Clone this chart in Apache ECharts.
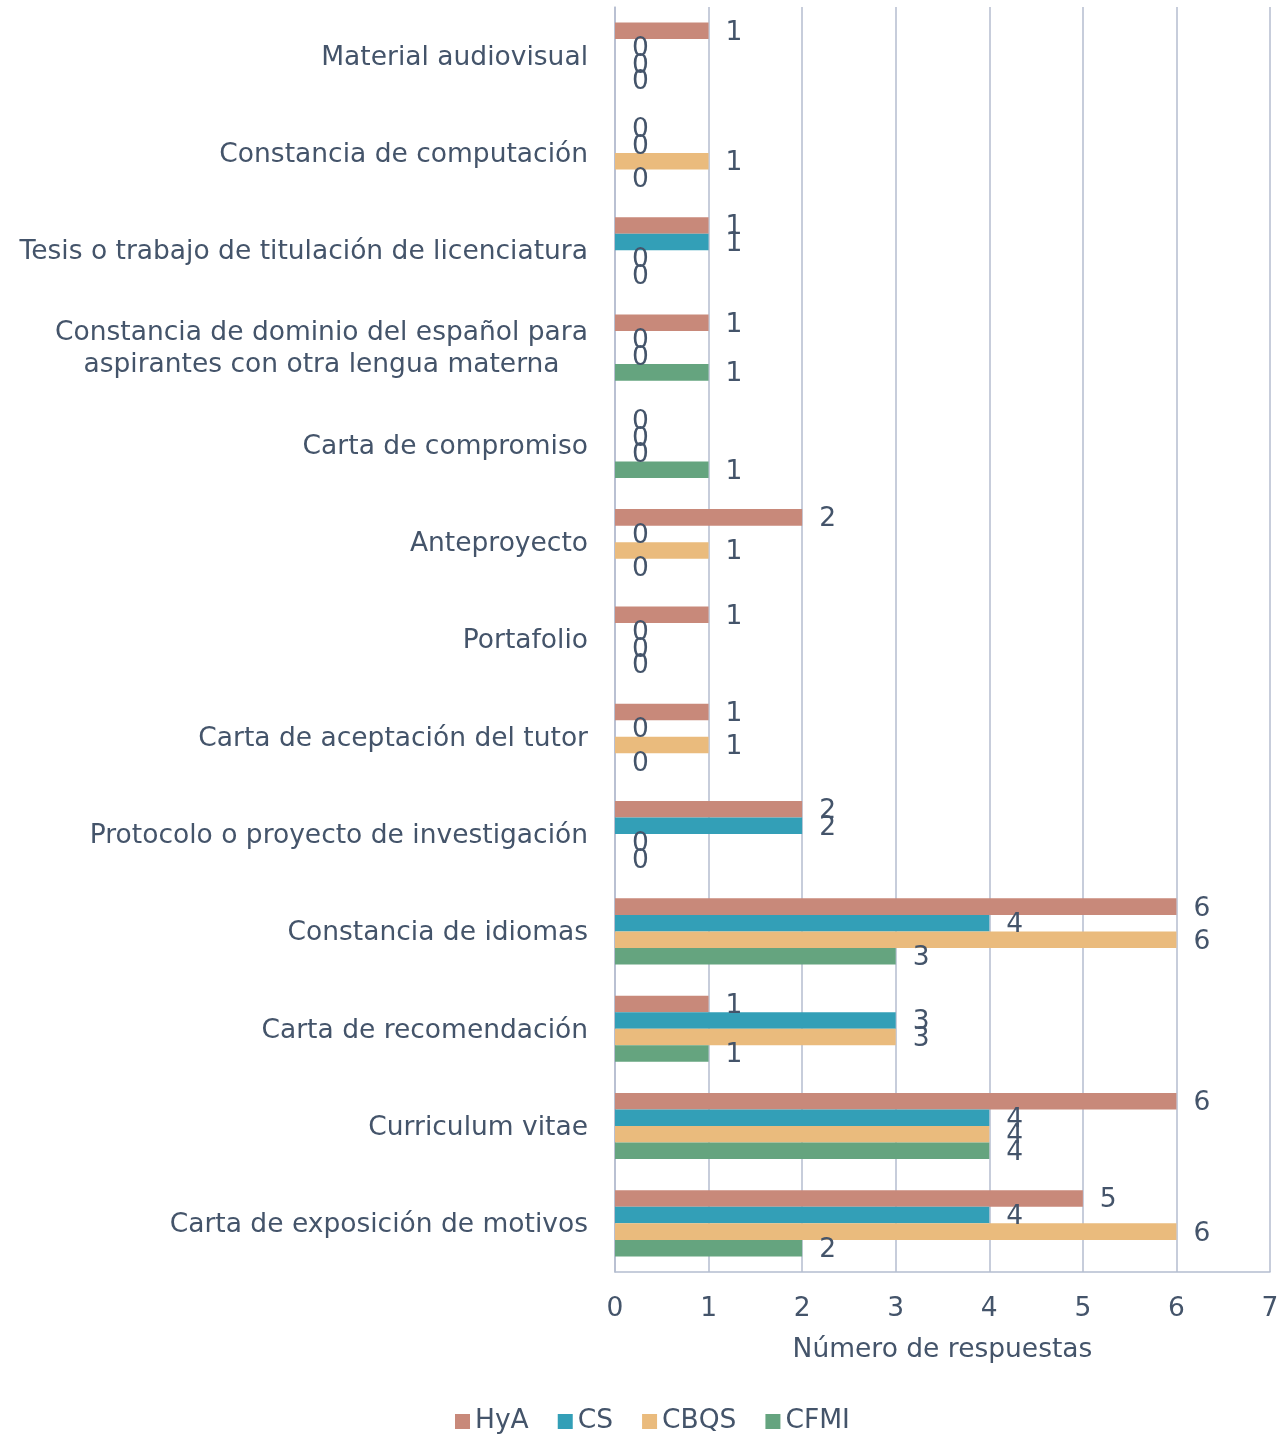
<!DOCTYPE html>
<html><head><meta charset="utf-8">
<script src="https://cdn.jsdelivr.net/npm/echarts@6/dist/echarts.min.js"></script>
<style>html,body{margin:0;padding:0;background:#fff}#c{width:1288px;height:1435px}</style>
</head><body><div id="c"></div>
<script>
const categories = [
  'Material audiovisual',
  'Constancia de computación',
  'Tesis o trabajo de titulación de licenciatura',
  'Constancia de dominio del español para\naspirantes con otra lengua materna',
  'Carta de compromiso',
  'Anteproyecto',
  'Portafolio',
  'Carta de aceptación del tutor',
  'Protocolo o proyecto de investigación',
  'Constancia de idiomas',
  'Carta de recomendación',
  'Curriculum vitae',
  'Carta de exposición de motivos'
];
const seriesNames = ['HyA', 'CS', 'CBQS', 'CFMI'];
const HyA  = [1, 0, 1, 1, 0, 2, 1, 1, 2, 6, 1, 6, 5];
const CS   = [0, 0, 1, 0, 0, 0, 0, 0, 2, 4, 3, 4, 4];
const CBQS = [0, 1, 0, 0, 0, 1, 0, 1, 0, 6, 3, 4, 6];
const CFMI = [0, 0, 0, 1, 1, 0, 0, 0, 0, 3, 1, 4, 2];
const xTicks = [0, 1, 2, 3, 4, 5, 6, 7];
const colors = ['#C8897A', '#339FB7', '#EABB7D', '#65A47F'];
const txt = '#44546A';
const font = 'DejaVu Sans';
const fs = 26.5;
const values = [HyA, CS, CBQS, CFMI];

// multi-line category labels: each line centred within the block
const ctx = document.createElement('canvas').getContext('2d');
ctx.font = fs + 'px "' + font + '"';
function fmt(v) {
  if (v.indexOf('\n') < 0) return v;
  return v.split('\n').map(l => '{c|' + l + '}').join('\n');
}
const multiLines = categories.filter(c => c.indexOf('\n') >= 0).join('\n').split('\n');
const maxW = Math.ceil(Math.max.apply(null, multiLines.map(l => ctx.measureText(l).width)));

const chart = echarts.init(document.getElementById('c'), null, {renderer: 'canvas'});
chart.setOption({
  animation: false,
  textStyle: {fontFamily: font, color: txt},
  grid: {left: 615, right: 18, top: 7, bottom: 163, containLabel: false},
  legend: {
    top: 1403, left: 450, itemWidth: 15, itemHeight: 15, itemGap: 29, itemTextGap: 5,
    icon: 'rect',
    textStyle: {fontFamily: font, fontSize: fs, color: txt},
    data: seriesNames
  },
  xAxis: {
    type: 'value', min: xTicks[0], max: xTicks[xTicks.length - 1], interval: 1,
    name: 'Número de respuestas', nameLocation: 'middle', nameGap: 65,
    nameTextStyle: {fontFamily: font, fontSize: fs, color: txt},
    axisLine: {show: true, lineStyle: {color: '#B4BDCF', width: 1.5}},
    axisTick: {show: false},
    axisLabel: {fontFamily: font, fontSize: fs, color: txt, margin: 24},
    splitLine: {show: true, lineStyle: {color: '#B4BDCF', width: 1.5}}
  },
  yAxis: {
    type: 'category', inverse: true, data: categories,
    axisLine: {show: true, lineStyle: {color: '#B4BDCF', width: 1.5}},
    axisTick: {show: false},
    axisLabel: {
      fontFamily: font, fontSize: fs, color: txt, margin: 27, lineHeight: 32,
      padding: [4, 0, 0, 0],
      formatter: fmt,
      rich: {c: {fontFamily: font, fontSize: fs, color: txt, lineHeight: 32, width: maxW, align: 'center'}}
    }
  },
  series: seriesNames.map((n, i) => ({
    name: n, type: 'bar', data: values[i],
    barGap: '0%', barCategoryGap: '32%',
    itemStyle: {color: colors[i]},
    label: {show: true, position: 'right', distance: 17, offset: [0, 2], fontFamily: font, fontSize: fs, color: txt}
  }))
});
</script></body></html>
